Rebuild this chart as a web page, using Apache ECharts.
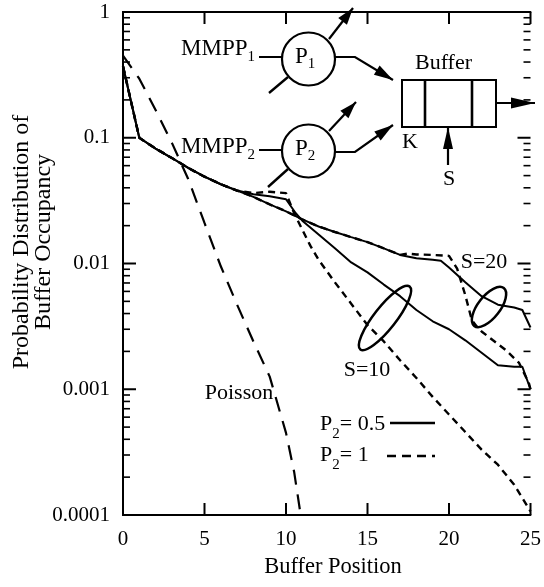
<!DOCTYPE html>
<html><head><meta charset="utf-8">
<script src="https://cdn.jsdelivr.net/npm/echarts@6/dist/echarts.min.js"></script>
<style>html,body{margin:0;padding:0;background:#fff}#c{width:544px;height:587px}</style>
</head><body><div id="c"></div>
<script>
// ---------- data ----------
const xTickValues = [0,5,10,15,20,25];
const xTickLabels = ['0','5','10','15','20','25'];
const yTickValues = [0.0001,0.001,0.01,0.1,1];
const yTickLabels = ['0.0001','0.001','0.01','0.1','1'];

// MMPP, S=10, P2=0.5 (solid)
const s10p05X = [0,1,2,3,4,5,6,7,8,9,10,10.6,11,12,13,14,15,16,17,18,19,20,21,22,23,24,24.5,25];
const s10p05Y = [0.37,0.1,0.082,0.069,0.0575,0.049,0.0427,0.038,0.0355,0.0343,0.0324,0.0251,0.0219,0.017,0.0132,0.0102,0.0085,0.0068,0.0055,0.00427,0.00347,0.003,0.00245,0.00195,0.00155,0.00151,0.00151,0.001];
// MMPP, S=10, P2=1 (dashed)
const s10p1X = [0,1,2,3,4,5,6,7,8,9,10,10.5,11,11.5,12,13,14,15,16,17,18,19,20,21,22,23,24,25];
const s10p1Y = [0.37,0.1,0.082,0.069,0.0575,0.049,0.0427,0.038,0.0363,0.0372,0.0363,0.0251,0.0186,0.0138,0.0107,0.00708,0.00479,0.00324,0.0024,0.0017,0.00123,0.00087,0.00063,0.000457,0.000331,0.000251,0.000174,0.000107];
// MMPP, S=20, P2=0.5 (solid)
const s20p05X = [0,1,2,3,4,5,6,7,8,9,10,11,12,13,14,15,16,17,18,19,19.5,20,21,22,23,24,24.5,25];
const s20p05Y = [0.37,0.1,0.082,0.069,0.0575,0.049,0.0427,0.038,0.0339,0.0295,0.026,0.0224,0.0197,0.0178,0.0162,0.0148,0.0132,0.0117,0.011,0.0107,0.0105,0.0093,0.0071,0.0055,0.0047,0.00447,0.00427,0.0031];
// MMPP, S=20, P2=1 (dashed)
const s20p1X = [0,1,2,3,4,5,6,7,8,9,10,11,12,13,14,15,16,17,17.5,18,19,20,20.5,21,21.4,21.7,22,22.7,23.5,24.3,24.9,25];
const s20p1Y = [0.37,0.1,0.082,0.069,0.0575,0.049,0.0427,0.038,0.0339,0.0295,0.026,0.0224,0.0197,0.0178,0.0162,0.0148,0.0132,0.0117,0.012,0.0118,0.0117,0.0115,0.0091,0.0056,0.00355,0.00316,0.00288,0.00245,0.00204,0.00162,0.00112,0.001];
// Poisson (long dash)
const poissonX = [0,1,2,3,4,5,6,7,8,9,10,10.5,10.9];
const poissonY = [0.45,0.295,0.166,0.091,0.047,0.021,0.0095,0.0047,0.0024,0.00126,0.00045,0.00022,0.0001];

// ---------- helpers ----------
const FONT = '"Liberation Serif","Times New Roman",serif';
const mctx = document.createElement('canvas').getContext('2d');
function tw(str, size){ mctx.font = size + 'px ' + FONT; return mctx.measureText(str).width; }
function pairs(xs, ys){ return xs.map((x,i)=>[x, ys[i]]); }
function txt(x, y, s, size, align){
  return {type:'text', x:x, y:y, z:10, style:{text:s, font: size+'px '+FONT, fill:'#000',
    textAlign: align||'left', textVerticalAlign:'middle', verticalAlign:'middle'}};
}
function subLabel(left, cy, main, sub, post, size, subSize, dy){
  const els = [txt(left, cy, main, size)];
  let x = left + tw(main, size);
  els.push(txt(x, cy + dy, sub, subSize));
  x += tw(sub, subSize);
  if (post) els.push(txt(x, cy, post, size));
  return els;
}
function seg(x1,y1,x2,y2,w,dash){
  const st = {stroke:'#000', lineWidth:w||2};
  if (dash) st.lineDash = dash;
  return {type:'line', z:10, shape:{x1,y1,x2,y2}, style:st};
}
function head(xf,yf,xt,yt,len,wid){
  const a = Math.atan2(yt-yf, xt-xf);
  const bx = xt - len*Math.cos(a), by = yt - len*Math.sin(a);
  const px = -Math.sin(a)*wid/2, py = Math.cos(a)*wid/2;
  return {type:'polygon', z:10, shape:{points:[[xt,yt],[bx+px,by+py],[bx-px,by-py]]}, style:{fill:'#000'}};
}
function arrow(x1,y1,x2,y2,len,wid){ return [seg(x1,y1,x2,y2,2.2), head(x1,y1,x2,y2,len,wid)]; }

const minorTicks = [];
for (let e=-4; e<0; e++) for (let m=2; m<=9; m++) minorTicks.push(m*Math.pow(10,e));

function axLine(){ return {show:true, lineStyle:{color:'#000', width:2}}; }
function yAx(pos){
  return {type:'log', min:0.0001, max:1, position:pos,
    axisLine: axLine(), axisTick:{show:false},
    axisLabel: pos==='left' ? {show:true, color:'#000', fontFamily:FONT, fontSize:21, margin:13,
      formatter: v => yTickLabels[Math.round(Math.log10(v))+4]} : {show:false},
    splitLine:{show:false}};
}
function xAx(pos){
  return {type:'value', min:0, max:25, interval:5, position:pos,
    axisLine: axLine(), axisTick:{show:false},
    axisLabel: pos==='bottom' ? {show:true, color:'#000', fontFamily:FONT, fontSize:21, margin:14,
      formatter: v => xTickLabels[Math.round(v/5)]} : {show:false},
    splitLine:{show:false}};
}

const base = {type:'line', showSymbol:false, symbol:'none', xAxisIndex:0, yAxisIndex:0, silent:true};

// ---------- annotation graphics ----------
const G = [];
G.push({type:'text', x:33, y:242, rotation:Math.PI/2, z:10, style:{text:'Probability Distribution of\nBuffer Occupancy',
  font:'24px '+FONT, fill:'#000', textAlign:'center', textVerticalAlign:'middle', verticalAlign:'middle', lineHeight:22}});
G.push(txt(333, 567, 'Buffer Position', 22.5, 'center'));
G.push(...subLabel(181, 49, 'MMPP', '1', null, 23, 15, 8));
G.push(...subLabel(181, 147, 'MMPP', '2', null, 23, 15, 8));
G.push(seg(259,57,282,57));
G.push(seg(259,150,282,150));
G.push({type:'circle', z:9, shape:{cx:308.5, cy:59, r:26.5}, style:{fill:'#fff', stroke:'#000', lineWidth:2.2}});
G.push({type:'circle', z:9, shape:{cx:308.5, cy:151, r:26.5}, style:{fill:'#fff', stroke:'#000', lineWidth:2.2}});
G.push(...subLabel(295, 57, 'P', '1', null, 23, 15, 7));
G.push(...subLabel(295, 149, 'P', '2', null, 23, 15, 7));
G.push(seg(269,93,288,77,2.4));
G.push(seg(268,187,288,169,2.4));
G.push(...arrow(329,39,353,8,17,11));
G.push(...arrow(329,131,356,102,17,11));
G.push({type:'polyline', z:10, shape:{points:[[335,57],[355,57],[393,80]]}, style:{stroke:'#000', lineWidth:2.2, fill:null}});
G.push(head(355,57,393,80,19,11));
G.push({type:'polyline', z:10, shape:{points:[[335,152],[355,152],[393,125]]}, style:{stroke:'#000', lineWidth:2.2, fill:null}});
G.push(head(355,152,393,125,19,11));
G.push({type:'rect', z:9, shape:{x:402, y:80, width:94, height:47}, style:{fill:'#fff', stroke:'#000', lineWidth:2}});
G.push(seg(425,80,425,127,2.6));
G.push(seg(472,80,472,127,2.6));
G.push(txt(443.5, 63, 'Buffer', 22, 'center'));
G.push(txt(402, 142, 'K', 22));
G.push(...arrow(448,165,448,127,22,10));
G.push(txt(449, 179, 'S', 22, 'center'));
G.push(...arrow(496,103,535,103,24,11));
G.push(txt(484, 262, 'S=20', 22, 'center'));
G.push(txt(367, 370, 'S=10', 22, 'center'));
G.push(txt(239, 393, 'Poisson', 22, 'center'));
G.push({type:'ellipse', z:10, x:489, y:307, rotation:52*Math.PI/180, shape:{cx:0, cy:0, rx:24, ry:11}, style:{fill:null, stroke:'#000', lineWidth:2.5}});
G.push({type:'ellipse', z:10, x:385, y:318, rotation:52*Math.PI/180, shape:{cx:0, cy:0, rx:40, ry:11}, style:{fill:null, stroke:'#000', lineWidth:2.5}});
G.push(...subLabel(320, 424, 'P', '2', '= 0.5', 22, 15, 10));
G.push(seg(390,423,435,423,2.5));
G.push(...subLabel(320, 455, 'P', '2', '= 1', 22, 15, 10));
G.push(seg(387,456,435,456,2.5,[9,6]));

const chart = echarts.init(document.getElementById('c'));
chart.setOption({
  animation:false,
  grid:{left:123, right:13, top:12, bottom:72},
  xAxis:[xAx('bottom'), xAx('top')],
  yAxis:[yAx('left'), yAx('right')],
  series:[
    Object.assign({}, base, {name:'S=10 P2=0.5', data:pairs(s10p05X,s10p05Y), lineStyle:{color:'#000', width:2}}),
    Object.assign({}, base, {name:'S=20 P2=0.5', data:pairs(s20p05X,s20p05Y), lineStyle:{color:'#000', width:2}}),
    Object.assign({}, base, {name:'S=10 P2=1', data:pairs(s10p1X,s10p1Y), lineStyle:{color:'#000', width:2.4, type:[7,5]}}),
    Object.assign({}, base, {name:'S=20 P2=1', data:pairs(s20p1X,s20p1Y), lineStyle:{color:'#000', width:2.4, type:[7,5]}}),
    Object.assign({}, base, {name:'Poisson', data:pairs(poissonX,poissonY), lineStyle:{color:'#000', width:2.2, type:[15,10]}})
  ]
});

// inward tick marks placed through the chart's own scales
const finder = {xAxisIndex:0, yAxisIndex:0};
const pLB = chart.convertToPixel(finder, [0, 0.0001]);
const pRT = chart.convertToPixel(finder, [25, 1]);
const xL = pLB[0], yB = pLB[1], xR = pRT[0], yT = pRT[1];
const T = [];
xTickValues.forEach(v => {
  const px = chart.convertToPixel(finder, [v, 0.01])[0];
  T.push(seg(px, yB, px, yB-12, 2));
  T.push(seg(px, yT, px, yT+12, 2));
});
yTickValues.forEach(v => {
  const py = chart.convertToPixel(finder, [0, v])[1];
  T.push(seg(xL, py, xL+13, py, 2));
  T.push(seg(xR, py, xR-13, py, 2));
});
minorTicks.forEach(v => {
  const py = chart.convertToPixel(finder, [0, v])[1];
  T.push(seg(xL, py, xL+7, py, 1.6));
  T.push(seg(xR, py, xR-7, py, 1.6));
});
chart.setOption({graphic:{elements: G.concat(T)}});
</script></body></html>
